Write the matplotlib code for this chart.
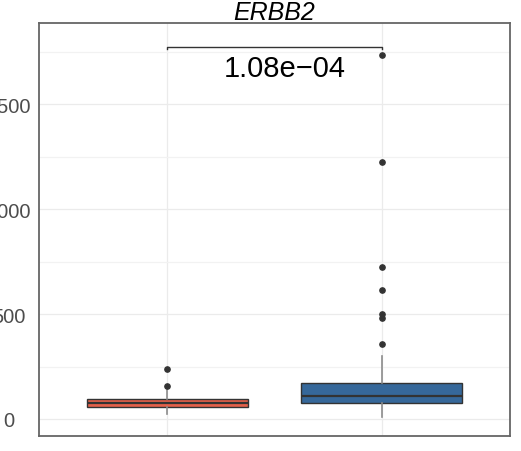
import matplotlib.pyplot as plt
import numpy as np

# ERBB2 expression, two groups
groups = ['low', 'high']
box_q1 = [59, 76]
box_med = [78, 108]
box_q3 = [95, 170]
box_lo = [24, 11]
box_hi = [140, 301]
fliers = [[156, 238],
          [356, 480, 499, 613, 725, 1222, 1733]]
fill_colors = ['#E4604A', '#36689A']
pval_text = '1.08e\u221204'

plt.rcParams['font.family'] = ['Liberation Sans', 'DejaVu Sans']

fig = plt.figure(figsize=(5.21, 4.52), dpi=100)
ax = fig.add_axes([39 / 521, 15 / 452, 471 / 521, 413 / 452])

stats = []
for i in range(len(groups)):
    stats.append(dict(q1=box_q1[i], med=box_med[i], q3=box_q3[i],
                      whislo=box_lo[i], whishi=box_hi[i], fliers=fliers[i],
                      label=groups[i]))
pos = np.arange(1, len(groups) + 1)
bp = ax.bxp(stats, positions=pos, widths=0.75, patch_artist=True,
            showcaps=False,
            boxprops=dict(edgecolor='#333333', linewidth=1.0),
            medianprops=dict(color='#333333', linewidth=1.6),
            whiskerprops=dict(color='#8c8c8c', linewidth=1.2),
            flierprops=dict(marker='o', markersize=3.8, markerfacecolor='#333333',
                            markeredgecolor='#333333'),
            zorder=3)
for patch, c in zip(bp['boxes'], fill_colors):
    patch.set_facecolor(c)

# significance bracket
ax.plot([1, 1, 2, 2], [1760, 1771, 1771, 1760], color='#333333', lw=1.0, zorder=4)
ax.text(1.549, 1737, pval_text, ha='center', va='top', fontsize=21, color='black')

ax.set_xlim(0.4, 2.6)
ax.set_ylim(-81, 1886)
ax.set_yticks([0, 500, 1000, 1500])
ax.set_yticks([250, 750, 1250, 1750], minor=True)
ax.set_xticks(pos)
ax.set_xticklabels([])
ax.grid(True, which='major', color='#ebebeb', lw=0.9, zorder=0)
ax.grid(True, which='minor', axis='y', color='#f2f2f2', lw=0.9, zorder=0)
ax.set_axisbelow(True)
ax.tick_params(which='both', length=0)
# y labels are centred on a common column
ax.tick_params(axis='y', pad=21.6, labelsize=14.5, labelcolor='#4d4d4d')
for lab in ax.get_yticklabels():
    lab.set_horizontalalignment('center')
for s in ax.spines.values():
    s.set_color('#666666')
    s.set_linewidth(1.3)

fig.text(274.5 / 521, 1 - 20 / 452, 'ERBB2', ha='center', va='baseline',
         fontsize=18, style='italic')

fig.savefig('out.png', dpi=100)
